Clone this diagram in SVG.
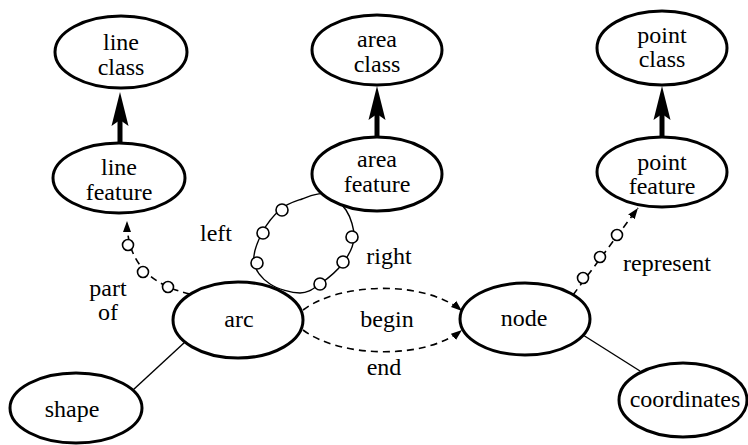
<svg xmlns="http://www.w3.org/2000/svg" width="748" height="445" viewBox="0 0 748 445">
  <style>
    .node { fill: #fff; stroke: #000; stroke-width: 3; }
    .lbl { font-family: "Liberation Serif", "Times New Roman", serif; font-size: 24px; fill: #000; text-anchor: middle; }
    .thick { stroke: #000; stroke-width: 5; fill: none; }
    .dash { stroke: #000; stroke-width: 1.6; fill: none; stroke-dasharray: 7 5; }
    .thin { stroke: #000; stroke-width: 1.4; fill: none; }
    .bead { fill: #fff; stroke: #000; stroke-width: 1.6; }
  </style>
  <defs>
    <marker id="bigHead" viewBox="0 -10 36 20" refX="8" refY="0" markerWidth="36" markerHeight="20" markerUnits="userSpaceOnUse" orient="auto">
      <path d="M34,0 L0,-8.5 L6,0 L0,8.5 Z" fill="#000"/>
    </marker>
    <marker id="smallHead" viewBox="0 -5 12 10" refX="11" refY="0" markerWidth="12" markerHeight="10" markerUnits="userSpaceOnUse" orient="auto">
      <path d="M11,0 L0,-4 L0,4 Z" fill="#000"/>
    </marker>
  </defs>

  <g id="connectors">
    <!-- is-a: feature to class -->
    <line class="thick" x1="120" y1="143" x2="120" y2="118" marker-end="url(#bigHead)"/>
    <line class="thick" x1="377" y1="138" x2="377" y2="112" marker-end="url(#bigHead)"/>
    <line class="thick" x1="662" y1="138" x2="662" y2="112" marker-end="url(#bigHead)"/>

    <!-- part of: arc to line feature -->
    <path class="dash" d="M190,294 C150,285 127,262 127,221" marker-end="url(#smallHead)"/>
    <circle class="bead" cx="168" cy="287" r="5.5"/>
    <circle class="bead" cx="143" cy="272" r="5.5"/>
    <circle class="bead" cx="128" cy="245" r="5.5"/>

    <!-- represent: node to point feature -->
    <line class="dash" x1="573" y1="295" x2="638" y2="208" marker-end="url(#smallHead)"/>
    <circle class="bead" cx="583" cy="278" r="5.5"/>
    <circle class="bead" cx="600" cy="257" r="5.5"/>
    <circle class="bead" cx="617" cy="235" r="5.5"/>

    <!-- left / right loop around the arc; its ends pass behind arc and area feature -->
    <path class="thin" d="M325,194 C332.3,195.8 341.2,202.7 346,210 C350.8,217.3 354.5,229.2 354,238 C353.5,246.8 348.7,255.3 343,263 C337.3,270.7 327.2,279 320,284 C312.8,289 308.3,293 300,293 C291.7,293 277.7,289.2 270,284 C262.3,278.8 255.3,270.5 254,262 C252.7,253.5 257.5,241.8 262,233 C266.5,224.2 274.3,214.7 281,209 C287.7,203.3 294.7,201.5 302,199 C309.3,196.5 317.7,192.2 325,194 Z"/>
    <circle class="bead" cx="282" cy="210" r="6"/>
    <circle class="bead" cx="263" cy="233" r="6"/>
    <circle class="bead" cx="257" cy="263" r="6"/>
    <circle class="bead" cx="352" cy="237" r="6"/>
    <circle class="bead" cx="343" cy="262" r="6"/>
    <circle class="bead" cx="320" cy="284" r="6"/>

    <!-- begin / end: arc to node -->
    <path class="dash" d="M303,310 C340,282 425,280 462,311" marker-end="url(#smallHead)"/>
    <path class="dash" d="M303,330 C340,358 425,360 462,330" marker-end="url(#smallHead)"/>

    <!-- attributes -->
    <line class="thin" x1="185" y1="342" x2="133" y2="390"/>
    <line class="thin" x1="583" y1="335" x2="640" y2="371"/>
  </g>

  <g id="line-class">
    <ellipse class="node" cx="121" cy="52" rx="66" ry="36"/>
    <text class="lbl" x="121" y="50">line</text>
    <text class="lbl" x="121" y="75">class</text>
  </g>
  <g id="line-feature">
    <ellipse class="node" cx="119" cy="178" rx="66" ry="35"/>
    <text class="lbl" x="119" y="175">line</text>
    <text class="lbl" x="119" y="200">feature</text>
  </g>
  <g id="area-class">
    <ellipse class="node" cx="377" cy="50" rx="65" ry="35"/>
    <text class="lbl" x="377" y="47">area</text>
    <text class="lbl" x="377" y="72">class</text>
  </g>
  <g id="area-feature">
    <ellipse class="node" cx="377" cy="174" rx="65" ry="37"/>
    <text class="lbl" x="377" y="167">area</text>
    <text class="lbl" x="377" y="192">feature</text>
  </g>
  <g id="point-class">
    <ellipse class="node" cx="662" cy="48" rx="65" ry="37"/>
    <text class="lbl" x="662" y="43">point</text>
    <text class="lbl" x="662" y="67">class</text>
  </g>
  <g id="point-feature">
    <ellipse class="node" cx="662" cy="172" rx="65" ry="35"/>
    <text class="lbl" x="662" y="170">point</text>
    <text class="lbl" x="662" y="194">feature</text>
  </g>
  <g id="arc">
    <ellipse class="node" cx="238" cy="320" rx="65" ry="38"/>
    <text class="lbl" x="239" y="327">arc</text>
  </g>
  <g id="node">
    <ellipse class="node" cx="525" cy="319" rx="65" ry="36"/>
    <text class="lbl" x="524" y="326">node</text>
  </g>
  <g id="shape">
    <ellipse class="node" cx="76" cy="408" rx="66" ry="35"/>
    <text class="lbl" x="72" y="417">shape</text>
  </g>
  <g id="coordinates">
    <ellipse class="node" cx="683" cy="400" rx="64" ry="37"/>
    <text class="lbl" x="685" y="407">coordinates</text>
  </g>

  <g id="edge-labels">
    <text class="lbl" x="108" y="296">part</text>
    <text class="lbl" x="108" y="320">of</text>
    <text class="lbl" x="216" y="241">left</text>
    <text class="lbl" x="389" y="264">right</text>
    <text class="lbl" x="667" y="271">represent</text>
    <text class="lbl" x="387" y="327">begin</text>
    <text class="lbl" x="384" y="375">end</text>
  </g>
</svg>
